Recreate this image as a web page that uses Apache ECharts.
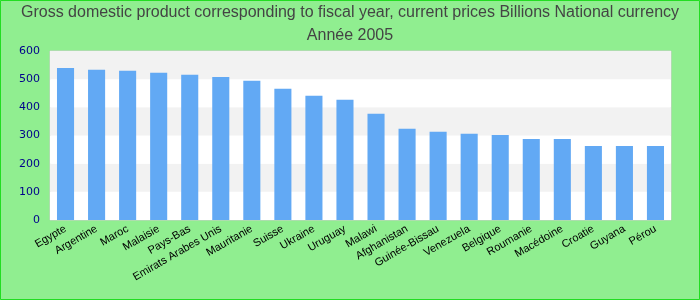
<!DOCTYPE html>
<html><head><meta charset="utf-8">
<script src="https://cdn.jsdelivr.net/npm/echarts@6/dist/echarts.min.js"></script>
<style>html,body{margin:0;padding:0;background:#90ee90;}#c{width:700px;height:300px;}</style>
</head><body><div id="c"></div>
<script>
const categories = ["Egypte","Argentine","Maroc","Malaisie","Pays-Bas","Emirats Arabes Unis","Mauritanie","Suisse","Ukraine","Uruguay","Malawi","Afghanistan","Guinée-Bissau","Venezuela","Belgique","Roumanie","Macédoine","Croatie","Guyana","Pérou"];
const values = [540, 533, 530, 523, 516, 508, 494, 466, 441, 427, 377, 324, 313, 306, 302, 288, 288, 263, 263, 263];
const titleLines = ["Gross domestic product corresponding to fiscal year, current prices Billions National currency", "Année 2005"];

const chart = echarts.init(document.getElementById('c'));
chart.setOption({
  backgroundColor: '#90ee90',
  animation: false,
  title: {
    text: titleLines.join('\n'),
    left: 'center', top: 0, padding: [1, 5],
    textStyle: {color: '#444', fontSize: 16, fontWeight: 'normal', fontFamily: 'Liberation Sans', lineHeight: 23}
  },
  graphic: [{type: 'rect', shape: {x: 0.5, y: 0.5, width: 699, height: 299}, style: {fill: 'none', stroke: '#22dd22', lineWidth: 1}, silent: true}],
  grid: {left: 50, top: 51, right: 29, bottom: 80, show: true, backgroundColor: '#fff', borderColor: '#ccc', borderWidth: 1},
  xAxis: {
    type: 'category', data: categories,
    axisLine: {show: false}, axisTick: {show: false},
    axisLabel: {rotate: 30, interval: 0, color: '#000', fontSize: 11, fontFamily: 'Liberation Sans', margin: 8}
  },
  yAxis: {
    type: 'value', min: 0, max: 600, interval: 100,
    axisLine: {show: false}, axisTick: {show: false},
    splitLine: {show: false},
    splitArea: {show: true, areaStyle: {color: ['#ffffff', '#f2f2f2']}},
    axisLabel: {color: '#00008b', fontSize: 11, fontFamily: 'DejaVu Sans', margin: 10}
  },
  series: [{type: 'bar', data: values, barWidth: '55%', itemStyle: {color: '#62a9f4'}}]
});
</script></body></html>
